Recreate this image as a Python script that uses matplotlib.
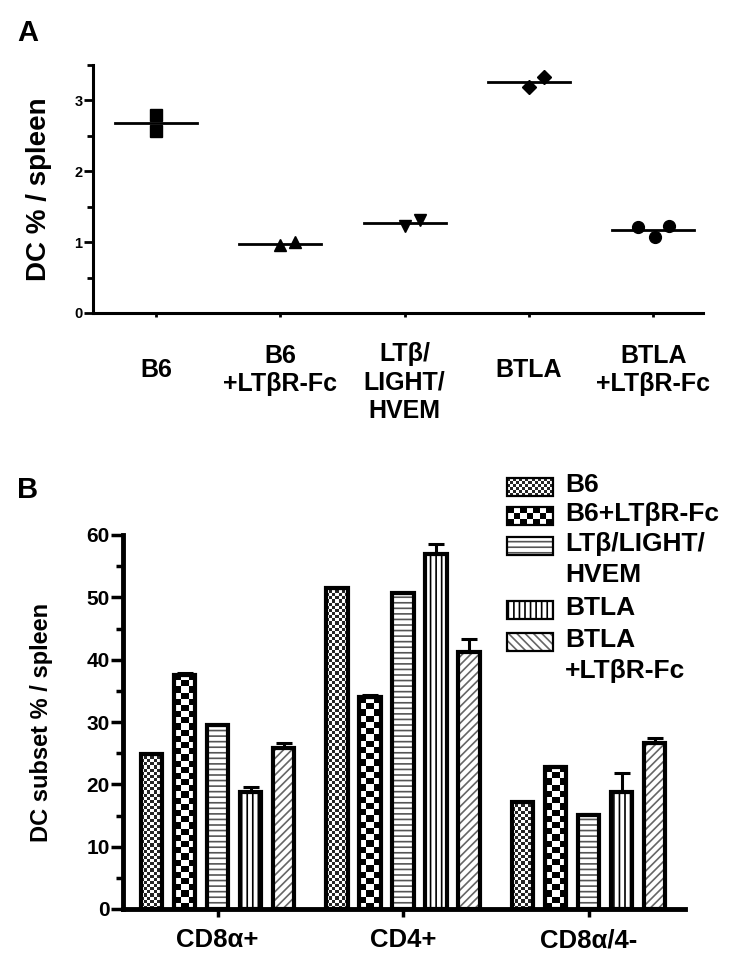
import numpy as np
import matplotlib
matplotlib.use("Agg")
import matplotlib.pyplot as plt
from matplotlib.ticker import MultipleLocator

plt.rcParams['font.family'] = ['Liberation Sans', 'DejaVu Sans']
plt.rcParams['font.weight'] = 'bold'
plt.rcParams['hatch.linewidth'] = 1.2

# ---- panel A data (DC % per spleen, individual mice) ----
groups_a = ['B6', 'B6\n+LTβR-Fc', 'LTβ/\nLIGHT/\nHVEM', 'BTLA', 'BTLA\n+LTβR-Fc']
vals_a = [[2.80, 2.57], [0.96, 1.00], [1.23, 1.31], [3.19, 3.33], [1.22, 1.07, 1.23]]
markers_a = ['s', '^', 'v', 'D', 'o']

# ---- panel B data (DC subset % per spleen, mean and SEM) ----
subsets = ['CD8α+', 'CD4+', 'CD8α/4-']
series_b = ['B6', 'B6+LTβR-Fc', 'LTβ/LIGHT/\nHVEM', 'BTLA', 'BTLA\n+LTβR-Fc']
means_b = [[24.9, 51.5, 17.2],
           [37.6, 34.0, 22.8],
           [29.5, 50.7, 15.1],
           [18.8, 57.0, 18.8],
           [25.8, 41.3, 26.6]]
sem_b = [[0.0, 0.0, 0.0],
         [0.2, 0.3, 0.2],
         [0.0, 0.0, 0.2],
         [0.8, 1.6, 3.0],
         [0.8, 2.0, 0.8]]

# styles (not data)
jitter_a = [[0, 0], [0, 0.12], [0, 0.12], [0, 0.12], [-0.12, 0.01, 0.13]]
styles_b = [dict(kind='checker', lo=0.15, cols=7, rpu=2.0, lcols=15, lrows=6),
            dict(kind='checker', lo=0.0, cols=3, rpu=1.0, lcols=7, lrows=3),
            dict(kind='hatch', hatch='---', color='#555555', lhatch='---'),
            dict(kind='hatch', hatch='|||', color='black', lhatch='|||'),
            dict(kind='hatch', hatch='////', color='#666666', lhatch='\\\\\\\\')]

W, H = 747, 969
fig = plt.figure(figsize=(W / 100, H / 100), dpi=100)


def px_axes(l, r, t, b):
    return [l / W, 1 - b / H, (r - l) / W, (b - t) / H]


def checker(rows, cols, lo):
    a = np.add.outer(np.arange(rows), np.arange(cols)) % 2
    return np.where(a == 1, 1.0, lo)


def draw_bars(ax, xs, hs, w, st, lw, legend=False):
    if st['kind'] == 'hatch':
        ax.bar(xs, hs, w, color='white', edgecolor=st['color'],
               hatch=st['lhatch'] if legend else st['hatch'], linewidth=0, zorder=2)
    else:
        base = ax.bar(xs, hs, w, color='white', linewidth=0, zorder=2)
        for p, x, h in zip(base.patches, xs, hs):
            if legend:
                arr = checker(st['lrows'], st['lcols'], st['lo'])
            else:
                arr = checker(max(1, int(round(h * st['rpu']))), st['cols'], st['lo'])
            im = ax.imshow(arr, extent=[x - w / 2, x + w / 2, 0, h], cmap='gray',
                           vmin=0, vmax=1, interpolation='nearest', aspect='auto', zorder=2.5)
            im.set_clip_path(p)
    ax.bar(xs, hs, w, fill=False, edgecolor='black', linewidth=lw, zorder=4,
           clip_on=not legend)


# ================= Panel A =================
ax = fig.add_axes(px_axes(93, 703, 65, 313))
pos_a = np.arange(len(groups_a))
for i, (v, m, j) in enumerate(zip(vals_a, markers_a, jitter_a)):
    ms = 7 if m == 'D' else 8.5
    ax.plot(pos_a[i] + np.array(j), v, linestyle='none', marker=m, color='black', ms=ms, zorder=3)
    mu = np.mean(v)
    ax.plot([pos_a[i] - 0.33, pos_a[i] + 0.33], [mu, mu], color='black', lw=2, zorder=2)

ax.set_xlim(-0.507, 4.40)
ax.set_ylim(0, 3.5)
ax.yaxis.set_major_locator(MultipleLocator(1))
ax.yaxis.set_minor_locator(MultipleLocator(0.5))
ax.set_xticks(pos_a)
ax.set_xticklabels([])
ax.tick_params(axis='y', which='major', length=6.5, width=2, labelsize=10.5, pad=1)
ax.tick_params(axis='y', which='minor', length=4, width=2)
ax.tick_params(axis='x', length=3, width=2)
for s in ['top', 'right']:
    ax.spines[s].set_visible(False)
for s in ['left', 'bottom']:
    ax.spines[s].set_linewidth(2.2)
ax.set_ylabel('DC % / spleen', fontsize=20, fontweight='bold')
ax.yaxis.set_label_coords(-0.067, 0.5)

for x, lab in zip(pos_a, groups_a):
    n = lab.count('\n') + 1
    if n < 3:
        ax.text(x, -(370 - 313) / 248, lab, transform=ax.get_xaxis_transform(),
                ha='center', va='center', fontsize=18, linespacing=1.22)
    else:
        ax.text(x, -(342 - 313) / 248, lab, transform=ax.get_xaxis_transform(),
                ha='center', va='top', fontsize=18, linespacing=1.25)

fig.text(28 / W, 1 - 33 / H, 'A', fontsize=21, fontweight='bold', ha='center', va='center')
fig.text(28 / W, 1 - 490 / H, 'B', fontsize=21, fontweight='bold', ha='center', va='center')

# ================= Panel B =================
bx = fig.add_axes(px_axes(123, 685, 535, 909))
pos_b = np.arange(len(subsets))
step, bw = 0.178, 0.115
for k, (m, e, st) in enumerate(zip(means_b, sem_b, styles_b)):
    xs = pos_b + (k - 2) * step
    draw_bars(bx, xs, m, bw, st, lw=3)
    bx.errorbar(xs, m, yerr=[np.zeros(len(e)), e], fmt='none', ecolor='black',
                elinewidth=2.2, capsize=5.5, capthick=2.2, zorder=3)

bx.set_xlim(-0.51, 2.52)
bx.set_ylim(0, 60)
bx.yaxis.set_major_locator(MultipleLocator(10))
bx.yaxis.set_minor_locator(MultipleLocator(5))
bx.set_xticks(pos_b)
bx.set_xticklabels(subsets, fontsize=18.5, fontweight='bold')
bx.tick_params(axis='x', length=6, width=2.5, pad=8)
bx.tick_params(axis='y', which='major', length=8.5, width=2.5, labelsize=15, pad=1)
bx.tick_params(axis='y', which='minor', length=5, width=2.5)
for s in ['top', 'right']:
    bx.spines[s].set_visible(False)
for s in ['left', 'bottom']:
    bx.spines[s].set_linewidth(3.5)
bx.set_ylabel('DC subset % / spleen', fontsize=17, fontweight='bold')
bx.yaxis.set_label_coords(-0.125, 0.5)

# legend drawn by hand (handles sit on the first line of each label)
leg_y = [487, 516, 546, 610, 642]
for lab, st, yc in zip(series_b, styles_b, leg_y):
    hx = fig.add_axes(px_axes(507, 553, yc - 9, yc + 9))
    hx.set_xlim(-0.5, 0.5)
    hx.set_ylim(0, 1)
    hx.axis('off')
    draw_bars(hx, [0], [1], 1.0, st, lw=1.6, legend=True)
    fig.text(565 / W, 1 - (yc - 14) / H, lab, fontsize=19, fontweight='bold',
             ha='left', va='top', linespacing=1.35)

fig.savefig('out.png', dpi=100)
